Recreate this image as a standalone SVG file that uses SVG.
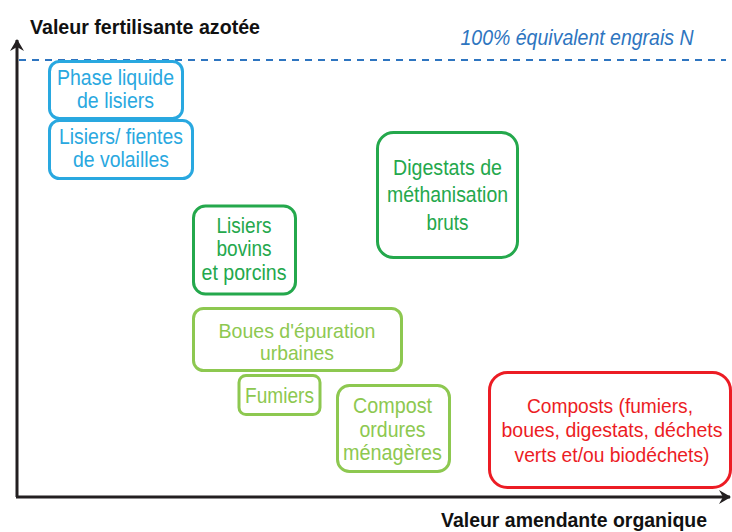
<svg xmlns="http://www.w3.org/2000/svg" width="732" height="532" viewBox="0 0 732 532">
<style>
text{font-family:"Liberation Sans",Arial,sans-serif;font-size:22px;text-anchor:middle}
.lbl{font-weight:bold;font-size:20px;fill:#111;text-anchor:start}
.sm{font-size:21px}
.xs{font-size:20px}
.box{fill:#fff;stroke-width:3}
.blue rect{stroke:#29a8e0}.blue text{fill:#29a8e0}
.dg rect{stroke:#24a84c}.dg text{fill:#24a84c}
.lg rect{stroke:#8dc850}.lg text{fill:#8dc850}
.red rect{stroke:#ec1c24}.red text{fill:#ec1c24}
.axis{stroke:#231f20;stroke-width:3;fill:none}
</style>
<defs>
<marker id="ah" viewBox="0 0 12 14" refX="11" refY="7" markerWidth="12" markerHeight="14" markerUnits="userSpaceOnUse" orient="auto">
<path d="M0,0 L12,7 L0,14 L4,7 Z" fill="#231f20"/>
</marker>
</defs>
<g id="connectors">
<line class="axis" x1="17" y1="497" x2="17" y2="40" marker-end="url(#ah)"/>
<line class="axis" x1="16" y1="497" x2="730" y2="497" marker-end="url(#ah)"/>
<line x1="19" y1="60" x2="726" y2="60" stroke="#2e75c0" stroke-width="2" stroke-dasharray="7 6"/>
</g>
<g id="labels">
<text class="lbl" x="30" y="34" textLength="230" lengthAdjust="spacingAndGlyphs">Valeur fertilisante azotée</text>
<text class="lbl" x="441" y="527" textLength="266" lengthAdjust="spacingAndGlyphs">Valeur amendante organique</text>
<text x="577" y="45" font-style="italic" font-size="20" fill="#2e75c0" textLength="233" lengthAdjust="spacingAndGlyphs">100% équivalent engrais N</text>
</g>
<g id="n1" class="blue">
<rect class="box" x="49.5" y="61.5" width="133" height="57" rx="10"/>
<text x="115.5" y="85" textLength="117" lengthAdjust="spacingAndGlyphs">Phase liquide</text>
<text x="115.5" y="108" textLength="77" lengthAdjust="spacingAndGlyphs">de lisiers</text>
</g>
<g id="n2" class="blue">
<rect class="box" x="49.5" y="120.5" width="143" height="58" rx="10"/>
<text x="121" y="144" textLength="124" lengthAdjust="spacingAndGlyphs">Lisiers/ fientes</text>
<text x="121" y="167" textLength="96" lengthAdjust="spacingAndGlyphs">de volailles</text>
</g>
<g id="n3" class="dg">
<rect class="box" x="193.5" y="206" width="102" height="88" rx="12"/>
<text x="244" y="233" textLength="55" lengthAdjust="spacingAndGlyphs">Lisiers</text>
<text x="244" y="256" textLength="55" lengthAdjust="spacingAndGlyphs">bovins</text>
<text x="244" y="280" textLength="85" lengthAdjust="spacingAndGlyphs">et porcins</text>
</g>
<g id="n4" class="dg">
<rect class="box" x="377.5" y="132.5" width="140" height="125" rx="16"/>
<text x="447.5" y="175" textLength="109" lengthAdjust="spacingAndGlyphs">Digestats de</text>
<text x="447.5" y="202" textLength="121" lengthAdjust="spacingAndGlyphs">méthanisation</text>
<text x="447.5" y="230" textLength="42" lengthAdjust="spacingAndGlyphs">bruts</text>
</g>
<g id="n5" class="lg">
<rect class="box" x="193.5" y="308.5" width="208" height="62" rx="10"/>
<text class="sm" x="297" y="338" textLength="157" lengthAdjust="spacingAndGlyphs">Boues d'épuration</text>
<text class="sm" x="297" y="360" textLength="74" lengthAdjust="spacingAndGlyphs">urbaines</text>
</g>
<g id="n6" class="lg">
<rect class="box" x="239" y="375.5" width="81" height="39" rx="7"/>
<text x="279.5" y="403" textLength="69" lengthAdjust="spacingAndGlyphs">Fumiers</text>
</g>
<g id="n7" class="lg">
<rect class="box" x="337.5" y="385.5" width="112" height="86" rx="12"/>
<text x="392.5" y="413" textLength="79" lengthAdjust="spacingAndGlyphs">Compost</text>
<text x="392.5" y="437" textLength="66" lengthAdjust="spacingAndGlyphs">ordures</text>
<text x="392.5" y="460" textLength="99" lengthAdjust="spacingAndGlyphs">ménagères</text>
</g>
<g id="n8" class="red">
<rect class="box" x="489.5" y="372.5" width="241" height="115" rx="18"/>
<text class="sm" x="610" y="413" textLength="166" lengthAdjust="spacingAndGlyphs">Composts (fumiers,</text>
<text class="xs" x="612" y="437" textLength="221" lengthAdjust="spacingAndGlyphs">boues, digestats, déchets</text>
<text class="sm" x="612" y="462" textLength="195" lengthAdjust="spacingAndGlyphs">verts et/ou biodéchets)</text>
</g>
</svg>
